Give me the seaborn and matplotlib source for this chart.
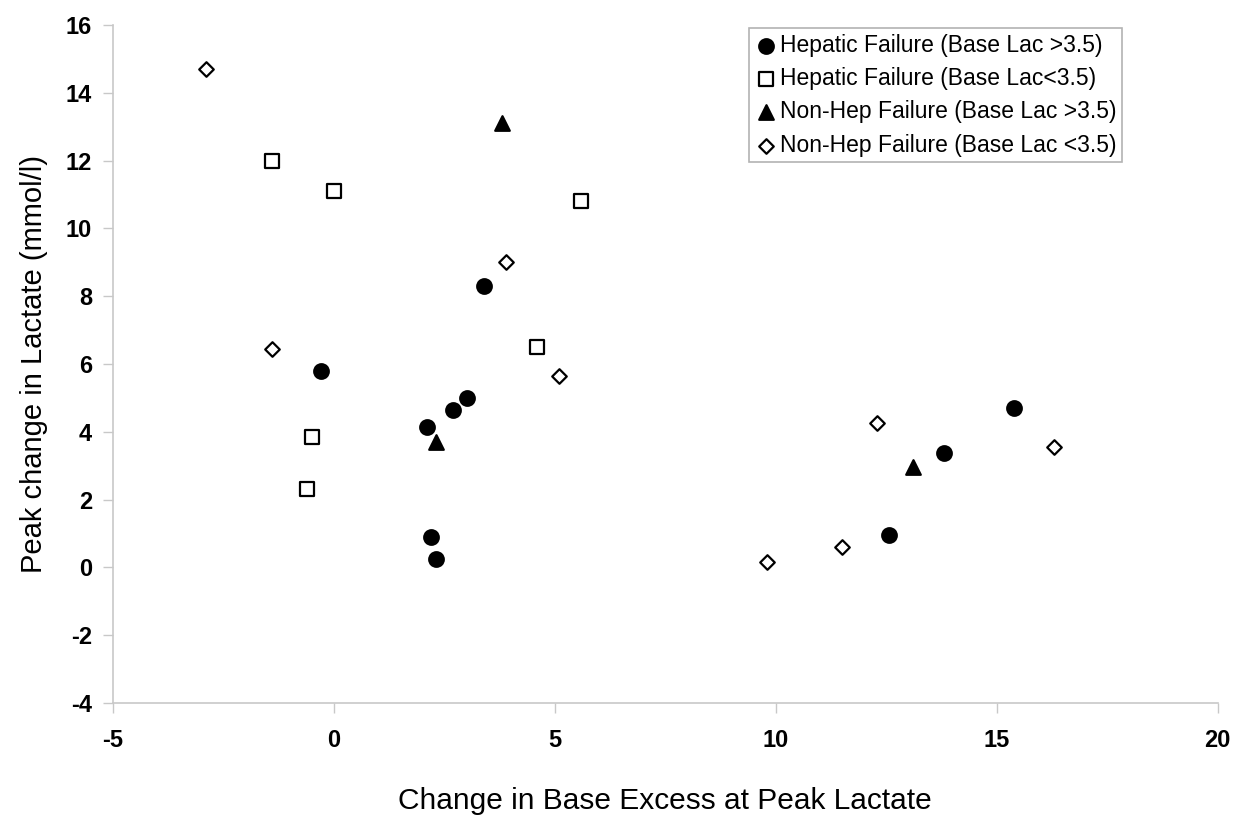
import numpy as np
import pandas as pd
import seaborn as sns
import matplotlib.pyplot as plt

# values
hep_hi_x = [-0.3, 3.4, 2.1, 2.7, 3.0, 2.2, 2.3, 12.55, 13.8, 15.4]
hep_hi_y = [5.8, 8.3, 4.15, 4.65, 5.0, 0.9, 0.25, 0.97, 3.38, 4.7]

hep_lo_x = [-1.4, 0.0, 5.6, 4.6, -0.5, -0.6]
hep_lo_y = [12.0, 11.1, 10.8, 6.5, 3.85, 2.3]

non_hi_x = [3.8, 2.3, 13.1]
non_hi_y = [13.1, 3.7, 2.95]

non_lo_x = [-2.9, 3.9, -1.4, 5.1, 12.3, 16.3, 11.5, 9.8]
non_lo_y = [14.7, 9.0, 6.45, 5.65, 4.25, 3.55, 0.6, 0.15]

labels = [
    'Hepatic Failure (Base Lac >3.5)',
    'Hepatic Failure (Base Lac<3.5)',
    'Non-Hep Failure (Base Lac >3.5)',
    'Non-Hep Failure (Base Lac <3.5)',
]

sns.set_style('white')
plt.rcParams['font.family'] = ['Liberation Sans', 'DejaVu Sans']
plt.rcParams['axes.unicode_minus'] = False
plt.rcParams['text.color'] = 'black'
plt.rcParams['axes.labelcolor'] = 'black'

fig = plt.figure(figsize=(12.35, 8.18), dpi=100)
ax = fig.add_axes([0.0915, 0.1406, 0.8945, 0.8288])

groups = [
    (hep_hi_x, hep_hi_y, 'o', 'black', 110),
    (hep_lo_x, hep_lo_y, 's', 'white', 110),
    (non_hi_x, non_hi_y, '^', 'black', 110),
    (non_lo_x, non_lo_y, 'D', 'white', 55),
]
for (gx, gy, m, c, s), lab in zip(groups, labels):
    df = pd.DataFrame({'x': gx, 'y': gy})
    sns.scatterplot(data=df, x='x', y='y', marker=m, color=c, edgecolor='black',
                    linewidth=1.6, s=s, label=lab, ax=ax, legend=True)

ax.set_xlim(-5, 20)
ax.set_ylim(-4, 16)
ax.set_xticks(np.arange(-5, 21, 5))
ax.set_yticks(np.arange(-4, 17, 2))
ax.set_xlabel('Change in Base Excess at Peak Lactate', fontsize=21.5, labelpad=25)
ax.set_ylabel('Peak change in Lactate (mmol/l)', fontsize=21, labelpad=13)

for side in ['top', 'right']:
    ax.spines[side].set_visible(False)
for side in ['left', 'bottom']:
    ax.spines[side].set_color('#c8c8c8')
    ax.spines[side].set_linewidth(1.2)
ax.tick_params(axis='both', which='major', direction='out', length=7, width=1,
               color='#c8c8c8', labelsize=17, labelcolor='black',
               bottom=True, left=True, pad=8)
ax.tick_params(axis='x', pad=12)
for t in ax.get_xticklabels() + ax.get_yticklabels():
    t.set_fontweight('bold')

leg = ax.legend(loc='upper right', bbox_to_anchor=(0.9085, 0.9658),
                bbox_transform=fig.transFigure, frameon=True, fancybox=False,
                fontsize=16.5, handletextpad=0.1, borderpad=0.25, labelspacing=0.45,
                handlelength=1.0, borderaxespad=0)
leg.get_frame().set_edgecolor('#a0a0a0')
leg.get_frame().set_linewidth(1.2)

fig.savefig('out.png', dpi=100)
